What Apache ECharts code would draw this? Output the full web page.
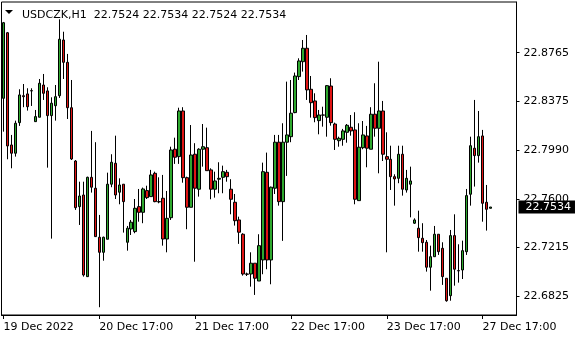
<!DOCTYPE html>
<html>
<head>
<meta charset="utf-8">
<script src="https://cdn.jsdelivr.net/npm/echarts@6/dist/echarts.min.js"></script>
<style>html,body{margin:0;padding:0;background:#fff;}#c{width:580px;height:340px;}</style>
</head>
<body>
<div id="c"></div>
<script>
// USDCZK H1 bars: open, high, low, close
const opens  = [22.8401,22.8924,22.8029,22.7963,22.8207,22.8422,22.8436,22.8462,22.8215,22.8250,22.8507,22.8460,22.8263,22.8342,22.8422,22.8866,22.8688,22.8326,22.7901,22.7537,22.7630,22.6979,22.7771,22.7684,22.7293,22.7173,22.7277,22.7716,22.7883,22.7652,22.7716,22.7253,22.7359,22.7338,22.7537,22.7492,22.7665,22.7617,22.7803,22.7577,22.7604,22.7279,22.7449,22.7995,22.7936,22.8300,22.7768,22.7532,22.7955,22.7676,22.7995,22.8007,22.7830,22.7676,22.7756,22.7771,22.7811,22.7676,22.7572,22.7431,22.7317,22.7000,22.7000,22.7086,22.6944,22.7112,22.7811,22.7112,22.7684,22.8051,22.7577,22.8051,22.8095,22.8287,22.8574,22.8693,22.8800,22.8473,22.8380,22.8223,22.8268,22.8250,22.8499,22.8196,22.8063,22.8074,22.8130,22.8170,22.8149,22.7585,22.8007,22.8101,22.7995,22.8274,22.8162,22.8300,22.7936,22.7915,22.7776,22.7763,22.7955,22.7670,22.7716,22.7405,22.7365,22.7285,22.7253,22.7054,22.7138,22.7317,22.7205,22.6966,22.6827,22.7306,22.7027,22.7032,22.7178,22.7636,22.8003,22.7944,22.8101,22.7572,22.7524];
const highs  = [22.9010,22.8930,22.8109,22.8223,22.8473,22.8515,22.8481,22.8481,22.8308,22.8555,22.8595,22.8489,22.8409,22.8507,22.9031,22.8932,22.8755,22.8547,22.7909,22.7736,22.7736,22.7776,22.8141,22.8051,22.7471,22.7298,22.7808,22.7955,22.8103,22.7763,22.7716,22.7383,22.7431,22.7598,22.7678,22.7689,22.7704,22.7830,22.7816,22.7771,22.7790,22.7662,22.8015,22.8087,22.8326,22.8330,22.7776,22.8188,22.8043,22.8003,22.8196,22.8167,22.7843,22.7816,22.7891,22.7864,22.7830,22.7756,22.7638,22.7457,22.7325,22.7011,22.7173,22.7086,22.7317,22.7888,22.7968,22.7697,22.8109,22.8109,22.8202,22.8534,22.8547,22.8606,22.8720,22.8866,22.8906,22.8579,22.8441,22.8308,22.8334,22.8507,22.8561,22.8207,22.8095,22.8157,22.8196,22.8268,22.8290,22.8202,22.8220,22.8181,22.8330,22.8521,22.8693,22.8380,22.8130,22.8023,22.7795,22.8023,22.8023,22.7830,22.7856,22.7444,22.7505,22.7405,22.7271,22.7226,22.7383,22.7317,22.7253,22.6966,22.7351,22.7476,22.7237,22.7266,22.7678,22.8095,22.8388,22.8300,22.8149,22.7710,22.7534];
const lows   = [22.8135,22.7915,22.7843,22.7936,22.8181,22.8330,22.8303,22.8340,22.8212,22.8250,22.8388,22.7848,22.7282,22.8223,22.8404,22.8555,22.8236,22.7909,22.7511,22.7391,22.6979,22.6976,22.7649,22.7295,22.6735,22.7106,22.7277,22.7692,22.7598,22.7556,22.7330,22.7186,22.7311,22.7325,22.7417,22.7405,22.7598,22.7617,22.7572,22.7564,22.7226,22.7173,22.7431,22.7878,22.7878,22.7728,22.7357,22.7532,22.7098,22.7617,22.7856,22.7824,22.7596,22.7609,22.7644,22.7644,22.7736,22.7476,22.7386,22.7240,22.6987,22.6984,22.6899,22.6833,22.6944,22.6998,22.7038,22.6918,22.7638,22.7545,22.7264,22.7782,22.8051,22.8282,22.8547,22.8614,22.8388,22.8247,22.8210,22.8114,22.8175,22.8095,22.8183,22.7989,22.8015,22.8023,22.8047,22.8103,22.7556,22.7585,22.7995,22.7851,22.7995,22.8095,22.7803,22.7901,22.7173,22.7670,22.7545,22.7724,22.7625,22.7649,22.7452,22.7399,22.7178,22.7178,22.7019,22.6867,22.7138,22.7152,22.6913,22.6779,22.6787,22.6907,22.6931,22.6960,22.7152,22.7545,22.7697,22.7888,22.7417,22.7346,22.7524];
const closes = [22.9004,22.8021,22.7963,22.8202,22.8428,22.8414,22.8334,22.8460,22.8255,22.8521,22.8441,22.8263,22.8362,22.8414,22.8872,22.8688,22.8326,22.7917,22.7529,22.7622,22.6992,22.7771,22.7692,22.7298,22.7173,22.7293,22.7716,22.7891,22.7630,22.7710,22.7577,22.7365,22.7413,22.7524,22.7492,22.7678,22.7609,22.7790,22.7577,22.7575,22.7279,22.7444,22.7989,22.7931,22.8300,22.7768,22.7532,22.7949,22.7684,22.7995,22.8015,22.7824,22.7676,22.7742,22.7763,22.7816,22.7776,22.7596,22.7425,22.7333,22.7000,22.6998,22.7086,22.6966,22.7226,22.7816,22.7112,22.7692,22.8051,22.7577,22.8051,22.8109,22.8282,22.8579,22.8699,22.8800,22.8468,22.8366,22.8247,22.8268,22.8267,22.8502,22.8207,22.8074,22.8082,22.8141,22.8186,22.8141,22.7596,22.8011,22.8109,22.8003,22.8274,22.8162,22.8300,22.7955,22.7915,22.7776,22.7758,22.7955,22.7676,22.7763,22.7742,22.7431,22.7290,22.7250,22.7054,22.7138,22.7317,22.7178,22.6979,22.6787,22.7306,22.7038,22.7025,22.7186,22.7625,22.8023,22.7944,22.8095,22.7564,22.7516,22.7534];
const tickLabels = ['19 Dec 2022','20 Dec 17:00','21 Dec 17:00','22 Dec 17:00','23 Dec 17:00','27 Dec 17:00'];
const priceTicks = [22.6825, 22.7215, 22.7600, 22.7990, 22.8375, 22.8765];
const symbolName = 'USDCZK,H1';
const emptySlots = 6; // chart shift on the right

const nBars = opens.length;
const categories = [];
for (let i = 0; i < nBars + emptySlots; i++) categories.push('bar' + i);
const candles = opens.map((o, i) => [o, closes[i], lows[i], highs[i]]);
const lastIdx = nBars - 1;
const lastPrice = closes[lastIdx];
const header = symbolName + '  ' + [opens[lastIdx], highs[lastIdx], lows[lastIdx], closes[lastIdx]].map(v => v.toFixed(4)).join(' ');

const FONT = 'DejaVu Sans';
const yMin = 22.6673, yMax = 22.9169;

const chart = echarts.init(document.getElementById('c'), null, {renderer: 'canvas'});
chart.setOption({
  backgroundColor: '#ffffff',
  animation: false,
  title: {
    text: header, left: 17, top: 5,
    textStyle: {fontFamily: FONT, fontSize: 11, fontWeight: 'normal', color: '#000'}
  },
  graphic: [{
    type: 'polygon', shape: {points: [[5, 10], [13, 10], [9, 14]]},
    style: {fill: '#000'}
  }],
  grid: {left: 1.5, top: 2, width: 515, height: 313, show: true, borderColor: '#000', borderWidth: 1, backgroundColor: 'transparent'},
  xAxis: {
    type: 'category', data: categories, boundaryGap: true,
    axisLine: {show: true, lineStyle: {color: '#000'}},
    axisTick: {show: true, interval: 23, alignWithLabel: true, length: 4, lineStyle: {color: '#000'}},
    axisLabel: {
      interval: 23, align: 'left', margin: 7, hideOverlap: false,
      fontFamily: FONT, fontSize: 11, color: '#000',
      formatter: (v, idx) => (idx % 24 === 0 && tickLabels[idx / 24]) ? tickLabels[idx / 24] : ''
    },
    splitLine: {show: false}
  },
  yAxis: [{
    type: 'value', position: 'right', min: yMin, max: yMax, scale: true,
    axisLine: {show: true, lineStyle: {color: '#000'}},
    axisTick: {show: true, customValues: priceTicks, length: 3, lineStyle: {color: '#000'}},
    axisLabel: {customValues: priceTicks, margin: 7, fontFamily: FONT, fontSize: 11, color: '#000',
      formatter: v => v.toFixed(4)},
    splitLine: {show: false}
  }, {
    type: 'value', position: 'right', min: yMin, max: yMax, scale: true, z: 10,
    axisLine: {show: false}, axisTick: {show: false},
    axisLabel: {customValues: [lastPrice], margin: 2, fontFamily: FONT, fontSize: 11, color: '#fff',
      backgroundColor: '#000', padding: [1, 4, 1, 7], formatter: v => v.toFixed(4)},
    splitLine: {show: false}
  }],
  series: [{
    type: 'candlestick', data: candles, barWidth: 3,
    itemStyle: {color: '#2ea82e', color0: '#e01414', borderColor: '#000', borderColor0: '#000', borderWidth: 1}
  }]
});
</script>
</body>
</html>
